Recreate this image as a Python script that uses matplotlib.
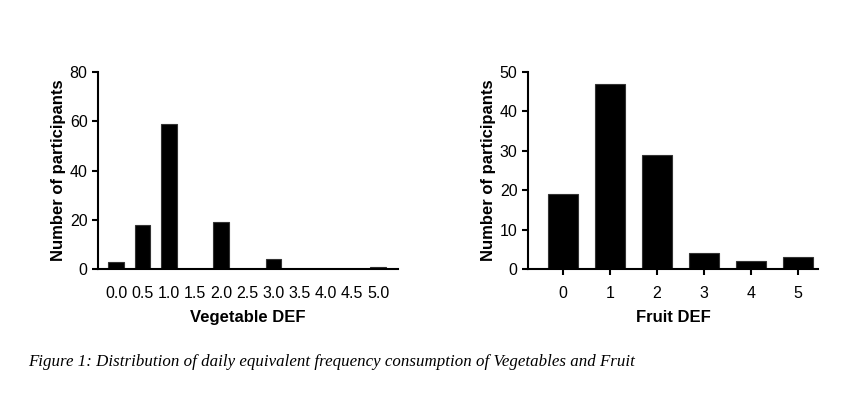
import matplotlib
matplotlib.use("Agg")
import matplotlib.pyplot as plt

veg_labels = ["0.0", "0.5", "1.0", "1.5", "2.0", "2.5", "3.0", "3.5", "4.0", "4.5", "5.0"]
veg_x = [0.0, 0.5, 1.0, 1.5, 2.0, 2.5, 3.0, 3.5, 4.0, 4.5, 5.0]
veg_counts = [3, 18, 59, 0, 19, 0, 4, 0, 0, 0, 1]

fruit_labels = ["0", "1", "2", "3", "4", "5"]
fruit_x = [0, 1, 2, 3, 4, 5]
fruit_counts = [19, 47, 29, 4, 2, 3]

caption = "Figure 1: Distribution of daily equivalent frequency consumption of Vegetables and Fruit"

plt.rcParams['font.family'] = ['Liberation Sans', 'DejaVu Sans']

fig = plt.figure(figsize=(8.5, 3.99), dpi=100)
ax1 = fig.add_axes([0.1153, 0.3258, 0.353, 0.4937])
ax2 = fig.add_axes([0.6212, 0.3258, 0.3412, 0.4937])

def style(ax):
    for s in ["top", "right"]:
        ax.spines[s].set_visible(False)
    for s in ["left", "bottom"]:
        ax.spines[s].set_linewidth(1.5)
    ax.tick_params(axis="both", width=1.5, length=4, labelsize=11.5, colors="black")
    ax.set_ylabel("Number of participants", fontsize=12, fontweight="bold", labelpad=3)

ax1.bar(veg_x, veg_counts, width=0.3, color="black", edgecolor="#333333", linewidth=0.8)
ax1.set_xlim(-0.35, 5.38)
ax1.set_ylim(0, 80)
ax1.set_yticks([0, 20, 40, 60, 80])
ax1.set_xticks(veg_x)
ax1.set_xticklabels(veg_labels)
style(ax1)
ax1.tick_params(axis="x", length=0, pad=12)
ax1.set_xlabel("Vegetable DEF", fontsize=12, fontweight="bold", labelpad=7)

ax2.bar(fruit_x, fruit_counts, width=0.64, color="black", edgecolor="#333333", linewidth=0.8)
ax2.set_xlim(-0.74, 5.43)
ax2.set_ylim(0, 50)
ax2.set_yticks([0, 10, 20, 30, 40, 50])
ax2.set_xticks(fruit_x)
ax2.set_xticklabels(fruit_labels)
style(ax2)
ax2.tick_params(axis="x", pad=8)
ax2.set_xlabel("Fruit DEF", fontsize=12, fontweight="bold", labelpad=7)

fig.text(0.033, 1 - 362 / 399, caption, fontsize=12.2, family=["Liberation Serif", "DejaVu Serif"],
         style="italic", va="center", ha="left")

fig.savefig("out.png", dpi=100, facecolor="white")
